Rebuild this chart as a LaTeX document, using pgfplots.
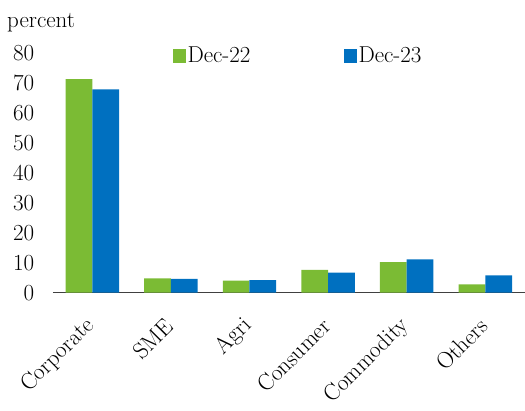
\documentclass[border=0pt]{standalone}
\usepackage{fontspec}
\setmainfont{Latin Modern Roman}
\usepackage{pgfplots}
\pgfplotsset{compat=1.18}
\definecolor{decgreen}{HTML}{7BBB34}
\definecolor{decblue}{HTML}{0070C0}
\definecolor{axisgrey}{HTML}{404040}
\newcommand{\chartfont}{\fontsize{23}{26}\selectfont}
\begin{document}
\begin{tikzpicture}
\begin{axis}[
  scale only axis,
  width=471.6pt, height=240pt,
  xmin=-0.5, xmax=5.5,
  ymin=0, ymax=80,
  clip=false,
  font=\chartfont,
  /pgf/number format/assume math mode=true,
  ybar, bar width=0.34,
  axis x line=bottom, axis y line=left,
  axis line style={-},
  x axis line style={axisgrey, line width=0.8pt},
  y axis line style={draw=none},
  ytick={0,10,...,80},
  ytick style={draw=none},
  yticklabel style={xshift=-11pt},
  xtick={0,...,5},
  xticklabels={Corporate,SME,Agri,Consumer,Commodity,Others},
  xtick style={draw=none},
  minor xtick={-0.5,0.5,...,5.5},
  minor tick length=5pt,
  minor tick style={axisgrey, line width=0.8pt},
  tick align=outside,
  xticklabel style={yshift=-23pt, xshift=1pt, rotate=45, anchor=east},
  legend style={at={(axis cs:0.98,79)}, anchor=west, draw=none, fill=none,
    legend columns=2, font=\chartfont,
    /tikz/every even column/.append style={column sep=91pt}},
  legend image code/.code={\fill[#1] (0pt,-7pt) rectangle (13pt,7pt);},
]
\addplot[fill=decgreen, draw=none, bar shift=-0.17] coordinates
  {(0,71.2) (1,4.8) (2,4.0) (3,7.6) (4,10.2) (5,2.8)};
\addlegendentry{Dec-22}
\addplot[fill=decblue, draw=none, bar shift=0.17] coordinates
  {(0,67.8) (1,4.6) (2,4.2) (3,6.7) (4,11.1) (5,5.8)};
\addlegendentry{Dec-23}
\end{axis}
\node[anchor=west, font=\chartfont, inner sep=0pt] at (-46pt,270.5pt) {percent};
\pgfresetboundingbox
\path (-53pt,-117.3pt) rectangle (472pt,292.7pt);
\end{tikzpicture}
\end{document}
